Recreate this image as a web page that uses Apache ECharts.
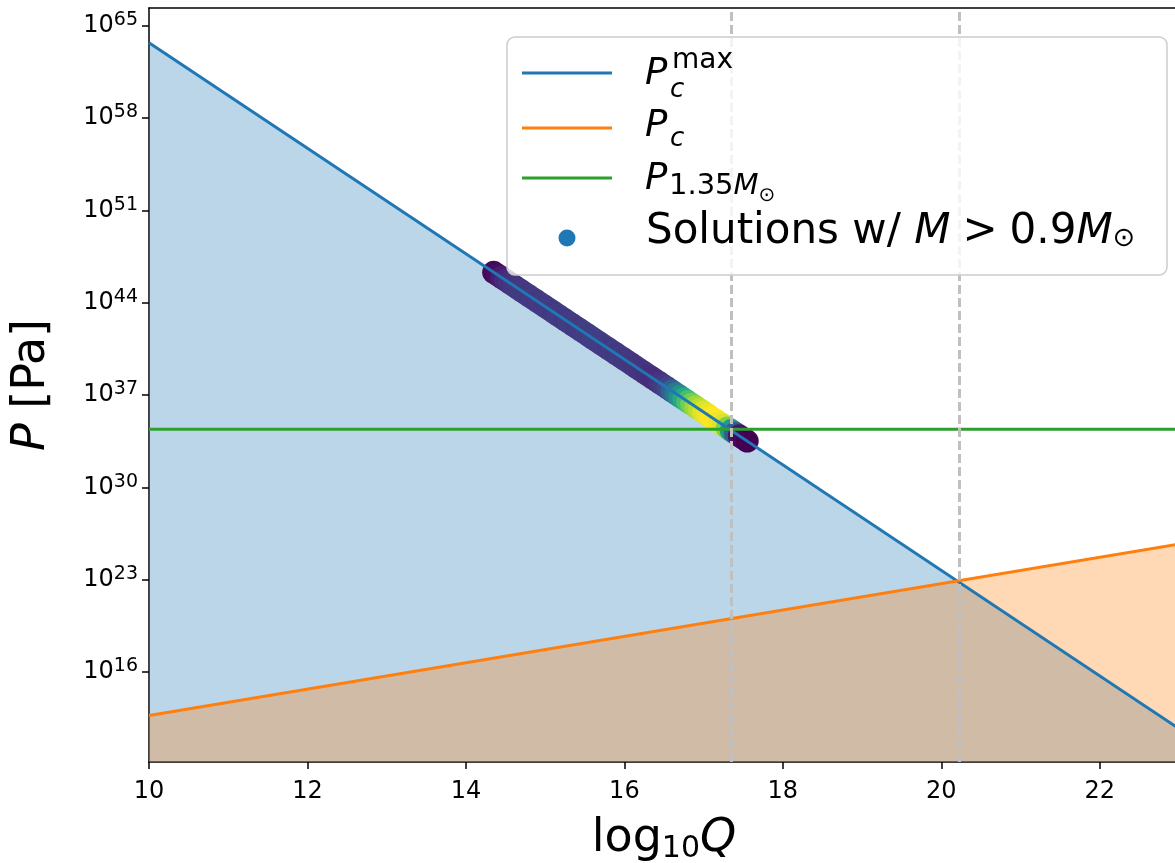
<!DOCTYPE html>
<html>
<head>
<meta charset="utf-8">
<script src="https://cdn.jsdelivr.net/npm/echarts@6/dist/echarts.min.js"></script>
<style>
  html, body { margin: 0; padding: 0; background: #ffffff; }
  #chart { width: 1175px; height: 863px; }
</style>
</head>
<body>
<div id="chart"></div>
<script>
// all pressures kept as log10(P / Pa)
const qEnds = [10, 23];
const pMaxExp = [63.7, 11.7];
const pcExp = [12.7, 25.7];
const p135Exp = [34.4, 34.4];
const vLines = [17.35, 20.23];
const yTickExp = [16, 23, 30, 37, 44, 51, 58, 65];

// solutions with M > 0.9 Msun, colour value
const solQ = [14.35, 14.40, 14.45, 14.50, 14.55, 14.60, 14.65, 14.70, 14.75, 14.80,
  14.85, 14.90, 14.95, 15.00, 15.05, 15.10, 15.15, 15.20, 15.25, 15.30,
  15.35, 15.40, 15.45, 15.50, 15.55, 15.60, 15.65, 15.70, 15.75, 15.80,
  15.85, 15.90, 15.95, 16.00, 16.05, 16.10, 16.15, 16.20, 16.25, 16.30,
  16.35, 16.40, 16.45, 16.50, 16.55, 16.60, 16.65, 16.70, 16.75, 16.80,
  16.85, 16.90, 16.95, 17.00, 17.05, 17.10, 17.15, 17.20, 17.25, 17.30,
  17.35, 17.40, 17.45, 17.50, 17.55];
const solExp = [46.3, 46.1, 45.9, 45.7, 45.5, 45.3, 45.1, 44.9, 44.7, 44.5,
  44.3, 44.1, 43.9, 43.7, 43.5, 43.3, 43.1, 42.9, 42.7, 42.5,
  42.3, 42.1, 41.9, 41.7, 41.5, 41.3, 41.1, 40.9, 40.7, 40.5,
  40.3, 40.1, 39.9, 39.7, 39.5, 39.3, 39.1, 38.9, 38.7, 38.5,
  38.3, 38.1, 37.9, 37.7, 37.5, 37.3, 37.1, 36.9, 36.7, 36.5,
  36.3, 36.1, 35.9, 35.7, 35.5, 35.3, 35.1, 34.9, 34.7, 34.5,
  34.3, 34.1, 33.9, 33.7, 33.5];
const solColor = [0.02, 0.04, 0.08, 0.11, 0.14, 0.15, 0.16, 0.17, 0.17, 0.17,
  0.18, 0.17, 0.18, 0.17, 0.18, 0.17, 0.18, 0.18, 0.17, 0.18,
  0.18, 0.17, 0.18, 0.19, 0.18, 0.19, 0.19, 0.18, 0.18, 0.17,
  0.18, 0.17, 0.18, 0.17, 0.17, 0.16, 0.16, 0.15, 0.15, 0.14,
  0.13, 0.13, 0.15, 0.18, 0.22, 0.30, 0.40, 0.50, 0.60, 0.70,
  0.78, 0.85, 0.90, 0.95, 0.97, 1.00, 1.00, 0.98, 0.95, 0.80,
  0.55, 0.30, 0.06, 0.02, 0.00];

const FONT = 'DejaVu Sans';
const blue = '#1f77b4', orange = '#ff7f0e', green = '#2ca02c';

function pairs(xs, ys) {
  return xs.map((x, i) => [x, ys[i]]);
}
const solData = solQ.map((q, i) => [q, solExp[i], solColor[i]]);

const chart = echarts.init(document.getElementById('chart'), null, { renderer: 'canvas' });

function txt(x, y, text, size, italic, rich) {
  return {
    type: 'text', x: x, y: y, z: 101,
    style: {
      text: text, fill: '#000', fontFamily: FONT, fontSize: size,
      fontStyle: italic ? 'italic' : 'normal',
      align: 'left', verticalAlign: 'middle',
      textAlign: 'left', textVerticalAlign: 'middle',
      rich: rich
    }
  };
}

const legendRich = {
  n: { fontFamily: FONT, fontSize: 42, lineHeight: 40 },
  i: { fontFamily: FONT, fontSize: 42, fontStyle: 'italic', lineHeight: 40 },
  g: { fontFamily: FONT, fontSize: 42, lineHeight: 40, padding: [0, 12, 0, 12] },
  sn: { fontFamily: FONT, fontSize: 29, lineHeight: 40 },
  si: { fontFamily: FONT, fontSize: 29, fontStyle: 'italic', lineHeight: 40 },
  ss: { fontFamily: FONT, fontSize: 20, lineHeight: 16, verticalAlign: 'bottom' },
  sub: { fontFamily: FONT, fontSize: 27, lineHeight: 18, verticalAlign: 'bottom' }
};

var option = {
  backgroundColor: '#ffffff',
  animation: false,
  grid: { left: 149, top: 8, width: 1030, height: 754, outerBoundsMode: 'none', containLabel: false },
  xAxis: [{
    type: 'value',
    min: 10, max: 23, interval: 2,
    name: '{n|log}{sub|10}{i|Q}',
    nameLocation: 'middle',
    nameGap: 52,
    nameTextStyle: {
      color: '#000',
      rich: {
        n: { fontFamily: FONT, fontSize: 46, lineHeight: 50, color: '#000' },
        i: { fontFamily: FONT, fontSize: 46, fontStyle: 'italic', lineHeight: 50, color: '#000' },
        sub: { fontFamily: FONT, fontSize: 30, lineHeight: 25, verticalAlign: 'bottom', color: '#000' }
      }
    },
    axisLine: { onZero: false, lineStyle: { color: '#000', width: 1.5 } },
    axisTick: { length: 7, lineStyle: { color: '#000', width: 1.5 } },
    axisLabel: { margin: 18, fontFamily: FONT, fontSize: 24, lineHeight: 24, color: '#000', showMaxLabel: false },
    splitLine: { show: false }
  }, {
    type: 'value', position: 'top', min: 10, max: 23,
    axisLine: { show: true, onZero: false, lineStyle: { color: '#000', width: 1.5 } },
    axisTick: { show: false }, axisLabel: { show: false }, splitLine: { show: false }
  }],
  yAxis: {
    type: 'value',
    min: 9.17, max: 66.34,
    name: '{i|P}{n| [Pa]}',
    nameLocation: 'middle',
    nameGap: 92,
    nameRotate: 90,
    nameTextStyle: {
      rich: {
        n: { fontFamily: FONT, fontSize: 46, lineHeight: 50, color: '#000' },
        i: { fontFamily: FONT, fontSize: 46, fontStyle: 'italic', lineHeight: 50, color: '#000' }
      }
    },
    axisLine: { show: true, onZero: false, lineStyle: { color: '#000', width: 1.5 } },
    axisTick: { show: true, length: 7, customValues: yTickExp, lineStyle: { color: '#000', width: 1.5 } },
    axisLabel: {
      margin: 11,
      fontFamily: FONT,
      fontSize: 24,
      lineHeight: 30,
      color: '#000',
      customValues: yTickExp,
      formatter: function (v) { return '{base|10}{sup|' + v + '}'; },
      rich: {
        base: { fontFamily: FONT, fontSize: 24, lineHeight: 30, color: '#000' },
        sup: { fontFamily: FONT, fontSize: 19, lineHeight: 18, verticalAlign: 'top', color: '#000' }
      }
    },
    splitLine: { show: false }
  },
  visualMap: {
    show: false, type: 'continuous', seriesIndex: 2, dimension: 2, min: 0, max: 1,
    inRange: { color: ['#440154', '#482878', '#3e4989', '#31688e', '#26828e',
      '#1f9e89', '#35b779', '#6ece58', '#b5de2b', '#fde725'] }
  },
  series: [
    {
      type: 'line', z: 1, symbol: 'none', silent: true,
      data: pairs(qEnds, pMaxExp),
      lineStyle: { opacity: 0 },
      areaStyle: { color: blue, opacity: 0.3, origin: 'start' }
    },
    {
      type: 'line', z: 1, symbol: 'none', silent: true,
      data: pairs(qEnds, pcExp),
      lineStyle: { opacity: 0 },
      areaStyle: { color: orange, opacity: 0.3, origin: 'start' }
    },
    {
      name: 'Solutions', type: 'scatter', z: 2, symbolSize: 23,
      data: solData,
      itemStyle: { opacity: 1 }
    },
    {
      name: 'Pc max', type: 'line', z: 3, symbol: 'none',
      data: pairs(qEnds, pMaxExp),
      lineStyle: { color: blue, width: 3 }
    },
    {
      name: 'Pc', type: 'line', z: 3, symbol: 'none',
      data: pairs(qEnds, pcExp),
      lineStyle: { color: orange, width: 3 }
    },
    {
      name: 'P1.35', type: 'line', z: 3, symbol: 'none',
      data: pairs(qEnds, p135Exp),
      lineStyle: { color: green, width: 3 },
      markLine: {
        silent: true, symbol: 'none', label: { show: false },
        lineStyle: { color: '#c0c0c0', width: 3, type: [9, 4] },
        data: vLines.map(v => ({ xAxis: v }))
      }
    }
  ],
  graphic: [
    {
      type: 'rect', z: 100,
      shape: { x: 507, y: 37, width: 660, height: 238, r: 8 },
      style: { fill: 'rgba(255,255,255,0.8)', stroke: '#cccccc', lineWidth: 1.5 }
    },
    { type: 'line', z: 101, shape: { x1: 522, y1: 73, x2: 612, y2: 73 }, style: { stroke: blue, lineWidth: 3 } },
    { type: 'line', z: 101, shape: { x1: 522, y1: 128, x2: 612, y2: 128 }, style: { stroke: orange, lineWidth: 3 } },
    { type: 'line', z: 101, shape: { x1: 522, y1: 178, x2: 612, y2: 178 }, style: { stroke: green, lineWidth: 3 } },
    { type: 'circle', z: 101, shape: { cx: 567, cy: 238, r: 8.5 }, style: { fill: blue } },
    // P_c^max
    txt(645, 74, 'P', 37, true),
    txt(672, 61, 'max', 28, false),
    txt(670, 90, 'c', 26, true),
    // P_c
    txt(645, 126, 'P', 37, true),
    txt(670, 139, 'c', 26, true),
    // P_1.35Msun
    txt(645, 179, 'P', 37, true),
    txt(669, 186, '{sn|1.35}{si|M}{ss|\u2299}', 29, false, legendRich),
    // solutions
    txt(646, 232, '{n|Solutions w/ }{i|M}{g|>}{n|0.9}{i|M}{sub|\u2299}', 42, false, legendRich)
  ]
};

chart.setOption(option);
</script>
</body>
</html>
